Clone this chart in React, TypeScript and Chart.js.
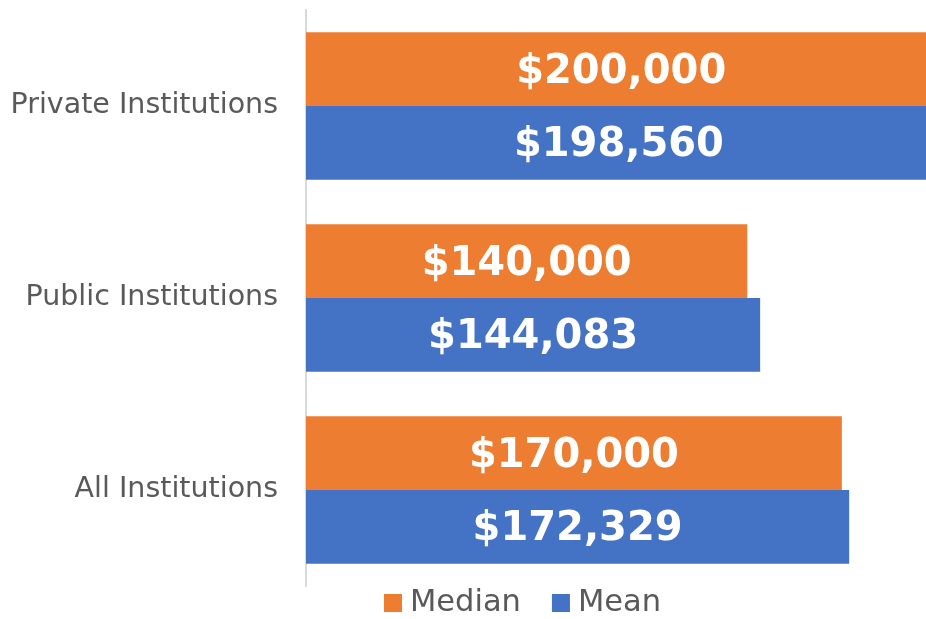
import React, { useEffect, useRef } from "react";
import { Chart, registerables } from "chart.js";

Chart.register(...registerables);

const categories = ["Private Institutions", "Public Institutions", "All Institutions"];
const medianValues = [200000, 140000, 170000];
const meanValues = [198560, 144083, 172329];
const seriesNames = ["Median", "Mean"];
const colors = ["#ED7D31", "#4472C4"];

const FONT = "'DejaVu Sans', Verdana, sans-serif";

const barLabels = {
  id: "barLabels",
  afterDatasetsDraw(chart: any) {
    const ctx = chart.ctx;
    ctx.save();
    ctx.fillStyle = "#FFFFFF";
    ctx.font = `bold 40px ${FONT}`;
    ctx.textAlign = "center";
    ctx.textBaseline = "middle";
    chart.data.datasets.forEach((ds: any, di: number) => {
      const meta = chart.getDatasetMeta(di);
      meta.data.forEach((el: any, i: number) => {
        const v = ds.data[i] as number;
        const txt = "$" + v.toLocaleString("en-US");
        const cx = (el.x + el.base) / 2;
        ctx.fillText(txt, cx, el.y + 3);
      });
    });
    ctx.restore();
  },
};

const bottomLegend = {
  id: "bottomLegend",
  afterDraw(chart: any) {
    const ctx = chart.ctx;
    const area = chart.chartArea;
    ctx.save();
    ctx.font = `30.5px ${FONT}`;
    ctx.textBaseline = "middle";
    ctx.textAlign = "left";
    const cy = area.bottom + 17;
    let x = 384;
    chart.data.datasets.forEach((ds: any) => {
      ctx.fillStyle = ds.backgroundColor;
      ctx.fillRect(x, cy - 9, 18, 18);
      ctx.fillStyle = "#595959";
      ctx.fillText(ds.label, x + 26, cy);
      x += 26 + ctx.measureText(ds.label).width + 31;
    });
    ctx.restore();
  },
};

export default function App() {
  const ref = useRef<HTMLCanvasElement>(null);
  useEffect(() => {
    if (!ref.current) return;
    const chart = new Chart(ref.current, {
      type: "bar",
      data: {
        labels: categories,
        datasets: [
          { label: seriesNames[0], data: medianValues, backgroundColor: colors[0] },
          { label: seriesNames[1], data: meanValues, backgroundColor: colors[1] },
        ],
      },
      options: {
        indexAxis: "y",
        animation: false,
        responsive: false,
        maintainAspectRatio: false,
        layout: { padding: { top: 10, left: 10, right: 0, bottom: 33 } },
        datasets: { bar: { categoryPercentage: 0.767, barPercentage: 1 } },
        scales: {
          x: { display: false, min: 0, max: 196700 },
          y: {
            grid: { display: false, drawTicks: false },
            border: { display: true, color: "#D9D9D9", width: 2 },
            ticks: { color: "#595959", font: { family: FONT, size: 28.5 }, padding: 28 },
            afterFit(scale: any) {
              scale.width = 296;
              scale.paddingTop = 0;
              scale.paddingBottom = 0;
            },
          },
        },
        plugins: {
          legend: { display: false },
          tooltip: { enabled: false },
        },
      },
      plugins: [barLabels, bottomLegend],
    });
    return () => chart.destroy();
  }, []);
  return (
    <div style={{ position: "absolute", left: 0, top: 0, width: 926, height: 619 }}>
      <canvas ref={ref} width={926} height={619} style={{ width: 926, height: 619 }} />
    </div>
  );
}
